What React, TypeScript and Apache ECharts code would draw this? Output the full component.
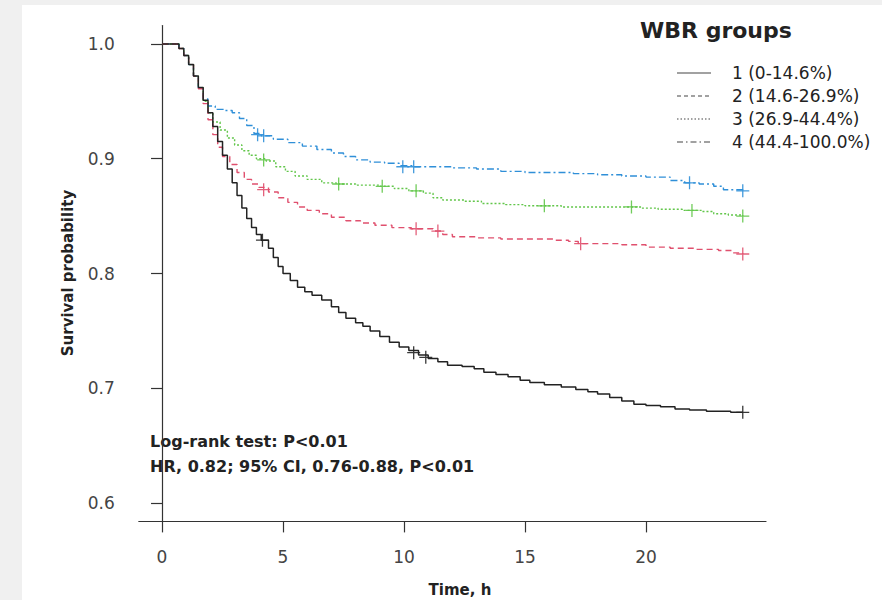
import React, { useEffect, useRef } from "react";
import * as echarts from "echarts";

const FONT = '"DejaVu Sans", "Noto Sans", sans-serif';

const xTicks = [0, 5, 10, 15, 20];
const yTicks = [0.6, 0.7, 0.8, 0.9, 1.0];

const groupNames = ["1 (0-14.6%)", "2 (14.6-26.9%)", "3 (26.9-44.4%)", "4 (44.4-100.0%)"];
const groupColors = ["#222222", "#e0506e", "#62c64a", "#2f8fd8"];

// Group 1 (solid black)
const time1 = [0, 0.7, 0.9, 1.1, 1.3, 1.5, 1.7, 1.9, 2.1, 2.3, 2.5, 2.7, 2.9, 3.1, 3.3, 3.5, 3.7, 3.9, 4.1, 4.4, 4.6, 4.8, 5.0, 5.3, 5.6, 5.9, 6.2, 6.6, 7.0, 7.3, 7.6, 8.0, 8.3, 8.6, 9.0, 9.4, 9.8, 10.2, 10.6, 11.0, 11.4, 11.8, 12.4, 12.9, 13.3, 13.8, 14.3, 14.8, 15.2, 15.8, 16.5, 17.1, 17.6, 18.0, 18.5, 19.0, 19.5, 20.0, 20.6, 21.2, 21.8, 22.5, 23.5, 24.0];
const surv1 = [1.0, 0.996, 0.99, 0.982, 0.972, 0.962, 0.951, 0.94, 0.928, 0.915, 0.903, 0.891, 0.879, 0.868, 0.857, 0.848, 0.84, 0.834, 0.829, 0.822, 0.814, 0.806, 0.8, 0.794, 0.788, 0.784, 0.781, 0.777, 0.771, 0.766, 0.761, 0.757, 0.754, 0.75, 0.745, 0.74, 0.736, 0.733, 0.729, 0.726, 0.723, 0.72, 0.719, 0.717, 0.714, 0.712, 0.71, 0.707, 0.705, 0.703, 0.701, 0.699, 0.697, 0.695, 0.692, 0.689, 0.686, 0.685, 0.684, 0.682, 0.681, 0.68, 0.679, 0.679];
const cens1T = [4.15, 10.4, 10.9, 24.0];
const cens1S = [0.829, 0.731, 0.727, 0.679];

// Group 2 (dashed red)
const time2 = [0, 0.7, 0.9, 1.1, 1.3, 1.5, 1.7, 1.9, 2.1, 2.3, 2.5, 2.8, 3.1, 3.4, 3.7, 4.0, 4.4, 4.8, 5.2, 5.6, 6.0, 6.5, 7.0, 7.6, 8.2, 8.8, 9.5, 10.3, 11.2, 11.6, 12.0, 13.0, 14.0, 15.5, 16.2, 16.8, 17.2, 18.0, 19.0, 20.0, 21.0, 22.0, 23.0, 23.6, 24.0];
const surv2 = [1.0, 0.996, 0.99, 0.982, 0.972, 0.961, 0.948, 0.934, 0.921, 0.91, 0.902, 0.895, 0.888, 0.882, 0.878, 0.875, 0.871, 0.866, 0.862, 0.858, 0.855, 0.852, 0.849, 0.846, 0.844, 0.842, 0.84, 0.839, 0.837, 0.834, 0.832, 0.831, 0.83, 0.83, 0.829, 0.828, 0.826, 0.826, 0.825, 0.823, 0.822, 0.821, 0.82, 0.818, 0.817];
const cens2T = [4.2, 10.5, 11.4, 17.3, 24.0];
const cens2S = [0.873, 0.839, 0.837, 0.826, 0.817];

// Group 3 (dotted green)
const time3 = [0, 0.7, 0.9, 1.1, 1.3, 1.5, 1.7, 1.9, 2.1, 2.4, 2.7, 3.0, 3.3, 3.6, 3.9, 4.3, 4.7, 5.1, 5.5, 6.0, 6.6, 7.2, 8.0, 9.0, 9.6, 10.2, 10.8, 11.2, 11.6, 12.5, 13.2, 14.2, 15.0, 16.5, 18.5, 19.8, 20.5, 21.5, 22.3, 22.8, 23.4, 24.0];
const surv3 = [1.0, 0.996, 0.99, 0.982, 0.972, 0.962, 0.95, 0.94, 0.932, 0.925, 0.918, 0.912, 0.907, 0.903, 0.9, 0.898, 0.893, 0.889, 0.885, 0.882, 0.879, 0.878, 0.877, 0.876, 0.874, 0.872, 0.87, 0.866, 0.864, 0.863, 0.861, 0.86, 0.859, 0.858, 0.858, 0.857, 0.856, 0.855, 0.854, 0.852, 0.851, 0.85];
const cens3T = [4.2, 7.3, 9.1, 10.5, 15.8, 19.4, 21.9, 24.0];
const cens3S = [0.899, 0.878, 0.876, 0.872, 0.859, 0.858, 0.855, 0.85];

// Group 4 (dash-dot blue)
const time4 = [0, 0.7, 0.9, 1.1, 1.3, 1.5, 1.7, 1.9, 2.2, 2.6, 2.9, 3.2, 3.5, 3.8, 4.1, 4.6, 5.2, 5.8, 6.4, 7.0, 7.5, 8.0, 8.6, 9.2, 9.8, 10.4, 11.0, 12.0, 13.0, 14.0, 15.0, 16.0, 17.0, 18.0, 19.0, 20.0, 21.0, 21.6, 22.2, 22.8, 23.2, 24.0];
const surv4 = [1.0, 0.996, 0.99, 0.982, 0.972, 0.962, 0.952, 0.946, 0.943, 0.942, 0.94, 0.935, 0.929, 0.922, 0.92, 0.917, 0.914, 0.911, 0.908, 0.905, 0.902, 0.899, 0.897, 0.896, 0.894, 0.893, 0.893, 0.892, 0.891, 0.889, 0.888, 0.888, 0.887, 0.886, 0.885, 0.884, 0.881, 0.879, 0.878, 0.876, 0.873, 0.872];
const cens4T = [3.95, 4.2, 9.95, 10.4, 21.8, 24.0];
const cens4S = [0.921, 0.92, 0.893, 0.893, 0.879, 0.872];

const groups = [
  { t: time1, s: surv1, ct: cens1T, cs: cens1S, dash: "solid" as any, width: 1.5 },
  { t: time2, s: surv2, ct: cens2T, cs: cens2S, dash: [6, 4], width: 1.4 },
  { t: time3, s: surv3, ct: cens3T, cs: cens3S, dash: [2, 2], width: 1.4 },
  { t: time4, s: surv4, ct: cens4T, cs: cens4S, dash: [7, 3, 2, 3], width: 1.4 },
];

const legendDash = [null, [4, 3], [1.5, 2], [6, 3, 1.5, 3]];

const annotation1 = "Log-rank test: P<0.01";
const annotation2 = "HR, 0.82; 95% CI, 0.76-0.88, P<0.01";

export default function App() {
  const ref = useRef<HTMLDivElement>(null);

  useEffect(() => {
    if (!ref.current) return;
    const chart = echarts.init(ref.current, null, { renderer: "svg" });

    const series: any[] = [];
    const order = [3, 2, 1, 0];
    order.forEach((gi) => {
      const g = groups[gi];
      series.push({
        type: "line",
        name: groupNames[gi],
        step: "end",
        showSymbol: false,
        symbol: "none",
        data: g.t.map((t, i) => [t, g.s[i]]),
        lineStyle: { color: groupColors[gi], width: g.width, type: g.dash },
        z: 2 + (3 - gi),
        silent: true,
      });
      series.push({
        type: "scatter",
        name: groupNames[gi] + " censored",
        data: g.ct.map((t, i) => [t, g.cs[i]]),
        symbol: "path://M5 0 L5 10 M0 5 L10 5",
        symbolSize: 13,
        itemStyle: { color: "none", borderColor: groupColors[gi], borderWidth: 1.3, opacity: 0.9 },
        z: 10,
        silent: true,
      });
    });

    const legendGraphics: any[] = [];
    legendGraphics.push({
      type: "text",
      left: 618,
      top: 14,
      style: { text: "WBR groups", fontSize: 22, fontWeight: "bold", fontFamily: FONT, fill: "#222" },
    });
    const rowY = [68, 91, 114, 137];
    groupNames.forEach((name, i) => {
      const st: any = { stroke: "#444", lineWidth: 1.1 };
      if (legendDash[i]) st.lineDash = legendDash[i];
      legendGraphics.push({
        type: "line",
        shape: { x1: 655, y1: rowY[i], x2: 689, y2: rowY[i] },
        style: st,
      });
      legendGraphics.push({
        type: "text",
        x: 710,
        y: rowY[i],
        style: { text: name, fontSize: 17, fontFamily: FONT, fill: "#222", verticalAlign: "middle", align: "left" },
      });
    });

    const option: any = {
      animation: false,
      backgroundColor: "#ffffff",
      grid: { left: 116.8, top: 20.6, width: 627.2, height: 495.8, containLabel: false },
      xAxis: {
        type: "value",
        min: -0.96,
        max: 24.96,
        axisLine: { show: true, lineStyle: { color: "#333", width: 1.2 } },
        axisTick: { show: true, customValues: xTicks, length: 11, lineStyle: { color: "#333", width: 1.2 } },
        axisLabel: {
          customValues: xTicks,
          margin: 27,
          fontSize: 17,
          fontFamily: FONT,
          color: "#444",
          formatter: (v: number) => String(v),
        },
        splitLine: { show: false },
      },
      yAxis: {
        type: "value",
        min: 0.584,
        max: 1.016,
        axisLine: { show: true, lineStyle: { color: "#333", width: 1.2 } },
        axisTick: { show: true, customValues: yTicks, length: 11, lineStyle: { color: "#333", width: 1.2 } },
        axisLabel: {
          customValues: yTicks,
          margin: 24,
          fontSize: 17,
          fontFamily: FONT,
          color: "#444",
          formatter: (v: number) => v.toFixed(1),
        },
        splitLine: { show: false },
      },
      series,
      graphic: [
        {
          type: "text",
          x: 46,
          y: 268,
          rotation: Math.PI / 2,
          style: { text: "Survival probability", fontSize: 15, fontWeight: "bold", fontFamily: FONT, fill: "#222", align: "center", verticalAlign: "middle" },
        },
        {
          type: "text",
          x: 438,
          y: 585,
          style: { text: "Time, h", fontSize: 15, fontWeight: "bold", fontFamily: FONT, fill: "#222", align: "center", verticalAlign: "middle" },
        },
        {
          type: "text",
          x: 128,
          y: 436,
          style: { text: annotation1, fontSize: 16, fontWeight: "bold", fontFamily: FONT, fill: "#222", align: "left", verticalAlign: "middle" },
        },
        {
          type: "text",
          x: 128,
          y: 461,
          style: { text: annotation2, fontSize: 16, fontWeight: "bold", fontFamily: FONT, fill: "#222", align: "left", verticalAlign: "middle" },
        },
        ...legendGraphics,
      ],
    };

    chart.setOption(option);
    return () => chart.dispose();
  }, []);

  return (
    <div style={{ position: "fixed", left: 0, top: 0, width: 882, height: 600, background: "#f0f0f0", overflow: "hidden" }}>
      <div ref={ref} style={{ position: "absolute", left: 22, top: 5, width: 860, height: 595, background: "#fff" }} />
    </div>
  );
}
